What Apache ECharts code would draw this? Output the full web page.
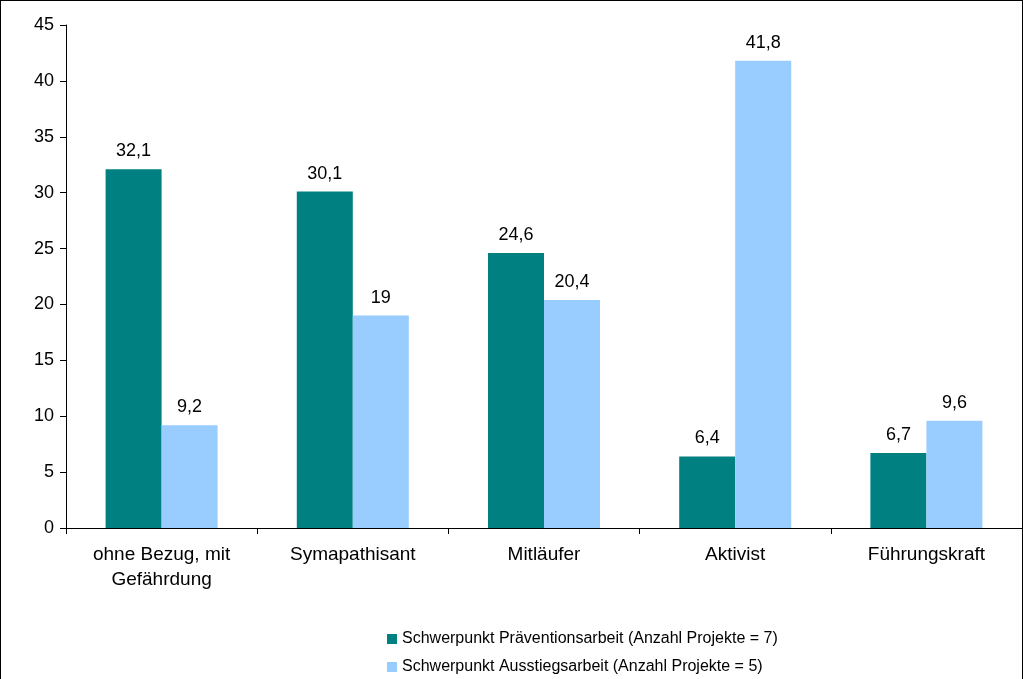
<!DOCTYPE html>
<html><head><meta charset="utf-8">
<script src="https://cdn.jsdelivr.net/npm/echarts@6/dist/echarts.min.js"></script>
<style>html,body{margin:0;padding:0;background:#fff}#c{width:1023px;height:679px;box-sizing:border-box;border:1px solid #000;border-bottom:none}</style>
</head><body><div id="c"></div>
<script>
const categories = ['ohne Bezug, mit\nGefährdung','Symapathisant','Mitläufer','Aktivist','Führungskraft'];
const praevention = [32.1,30.1,24.6,6.4,6.7];
const ausstieg = [9.2,19,20.4,41.8,9.6];
const seriesNames = ['Schwerpunkt Präventionsarbeit (Anzahl Projekte = 7)','Schwerpunkt Ausstiegsarbeit (Anzahl Projekte = 5)'];
const fmt = p => String(p.value).replace('.',',');
const font = 'Liberation Sans';
const chart = echarts.init(document.getElementById('c'));
chart.setOption({
  animation:false,
  textStyle:{fontFamily:font},
  grid:{left:65,right:-4,top:24,bottom:151},
  legend:{orient:'vertical',left:386,top:630,width:700,height:100,padding:0,itemWidth:10,itemHeight:10,itemGap:12,icon:'rect',
    textStyle:{fontFamily:font,fontSize:16,color:'#000'},data:seriesNames},
  xAxis:{type:'category',data:categories,
    axisLine:{lineStyle:{color:'#000'}},axisTick:{show:true,length:6,lineStyle:{color:'#000'}},
    axisLabel:{color:'#000',fontSize:19,margin:14,lineHeight:25,fontFamily:font}},
  yAxis:{type:'value',min:0,max:45,interval:5,
    axisLine:{show:true,lineStyle:{color:'#000'}},axisTick:{show:true,length:6,lineStyle:{color:'#000'}},
    splitLine:{show:false},axisLabel:{color:'#000',fontSize:18,margin:12,fontFamily:font}},
  series:[
    {name:seriesNames[0],type:'bar',data:praevention,barWidth:56,barGap:'0%',itemStyle:{color:'#008080'},
     label:{show:true,position:'top',formatter:fmt,color:'#000',fontSize:18,distance:9,fontFamily:font}},
    {name:seriesNames[1],type:'bar',data:ausstieg,barWidth:56,itemStyle:{color:'#99ccff'},
     label:{show:true,position:'top',formatter:fmt,color:'#000',fontSize:18,distance:9,fontFamily:font}}
  ]
});
</script></body></html>
